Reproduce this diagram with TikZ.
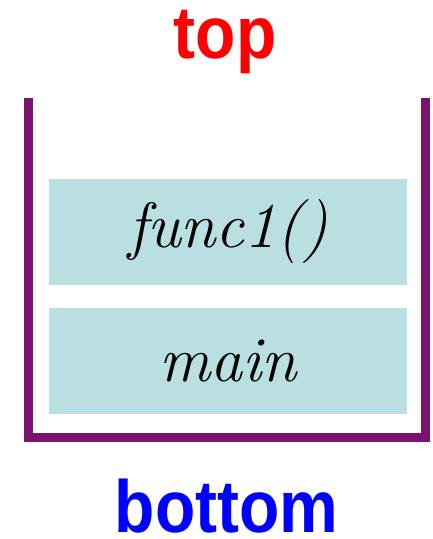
\documentclass[tikz,border=0pt]{standalone}
\usepackage{fontspec}
\newfontfamily\labelfont{Liberation Sans}
\usepackage{tikz}
\usetikzlibrary{positioning}
\definecolor{cupcol}{HTML}{7B1470}
\definecolor{framefill}{HTML}{B9DFE3}
\newcommand{\tall}[1]{\scalebox{1}[1.12]{#1}}

\begin{document}
\begin{tikzpicture}[
  x=1pt, y=-1pt,
  frame/.style={fill=framefill, minimum width=358pt, minimum height=106pt, inner sep=0pt,
    font=\fontsize{64}{64}\selectfont\itshape},
  tag/.style={inner sep=0pt, anchor=base, font=\labelfont\bfseries\fontsize{66}{66}\selectfont},
  cup/.style={draw=cupcol, line width=9pt},
]
\useasboundingbox (0,0) rectangle (433,539);

\node[frame] (func) at (228,232) {func1()};
\node[frame, below=23pt of func] (main) {main};

\node[tag, text=red] (top) at (225,58) {\tall{top}};
\node[tag, text=blue] (bottom) at (226.5,532) {\tall{bottom}};

\coordinate (lt) at (28.5,98);
\coordinate (rt) at (425.5,98);
\coordinate (lb) at (28.5,437.5);
\draw[cup] (lt) -- (lb) -| (rt);
\end{tikzpicture}
\end{document}
